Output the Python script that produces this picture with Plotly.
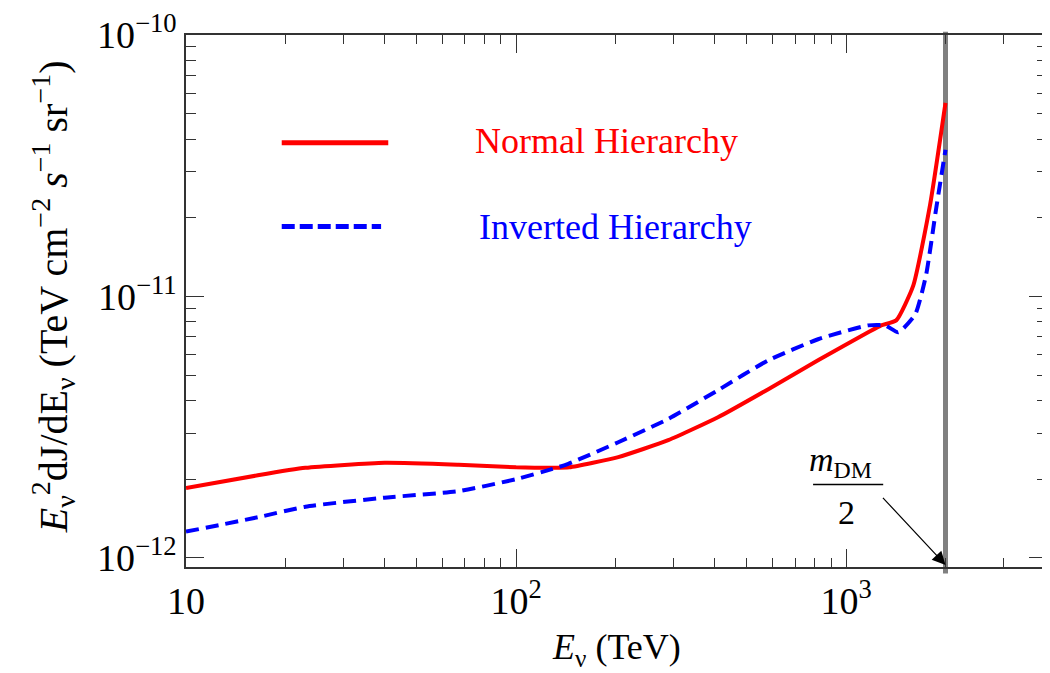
import numpy as np
import plotly.graph_objects as go

# ---- data ----
nh_energy = [10, 16.5, 23, 40, 67, 100, 130, 145, 204, 289, 409, 581, 822, 1166, 1277, 1418, 1597, 1797, 2000]
nh_flux = [1.85e-12, 2.07e-12, 2.21e-12, 2.31e-12, 2.27e-12, 2.22e-12, 2.21e-12, 2.22e-12, 2.43e-12,
           2.82e-12, 3.45e-12, 4.42e-12, 5.70e-12, 7.29e-12, 7.75e-12, 8.10e-12, 1.10e-11, 2.25e-11, 5.50e-11]

ih_energy = [10, 16.5, 23, 40, 67, 100, 129, 144, 204, 289, 409, 581, 822, 1166, 1313, 1439, 1619, 1747, 1876, 2000]
ih_flux = [1.26e-12, 1.43e-12, 1.57e-12, 1.70e-12, 1.80e-12, 2.00e-12, 2.19e-12, 2.29e-12, 2.77e-12,
           3.40e-12, 4.38e-12, 5.70e-12, 6.86e-12, 7.75e-12, 7.75e-12, 7.29e-12, 8.53e-12, 1.21e-11, 2.19e-11, 3.64e-11]

m_dm_half = 2000
x_range = [10, 4060]
y_range = [9.23e-13, 1e-10]

x_tickvals = [10, 100, 1000]
x_ticktext = ["10", "10<sup>2</sup>", "10<sup>3</sup>"]
y_tickvals = [1e-12, 1e-11, 1e-10]
y_ticktext = ["10<sup>−12</sup>", "10<sup>−11</sup>", "10<sup>−10</sup>"]

x_title = "<i>E</i><sub>ν</sub> (TeV)"
y_title = "<i>E</i><sub>ν</sub><sup>2</sup>dJ/dE<sub>ν</sub> (TeV cm<sup>−2</sup> <i>s</i><sup>−1</sup> sr<sup>−1</sup>)"

FONT = "Liberation Serif, Times New Roman, serif"
AX = "#333333"

fig = go.Figure()
fig.add_trace(go.Scatter(x=nh_energy, y=nh_flux, mode="lines", name="Normal Hierarchy",
                         line=dict(color="#ff0000", width=4, shape="spline", smoothing=0.5)))
fig.add_trace(go.Scatter(x=ih_energy, y=ih_flux, mode="lines", name="Inverted Hierarchy",
                         line=dict(color="#0000ff", width=4, dash="13px,7px", shape="spline", smoothing=0.5)))

# vertical line at m_DM/2
fig.add_shape(type="line", xref="x", yref="paper", x0=m_dm_half, x1=m_dm_half, y0=-0.012, y1=1.006,
              line=dict(color="#808080", width=5), layer="below")

# legend samples
fig.add_shape(type="line", xref="x", yref="y", x0=19.5, x1=41.0, y0=3.87e-11, y1=3.87e-11,
              line=dict(color="#ff0000", width=5))
fig.add_shape(type="line", xref="x", yref="y", x0=19.5, x1=39.0, y0=1.85e-11, y1=1.85e-11,
              line=dict(color="#0000ff", width=5, dash="13px,5px"))
fig.add_annotation(x=np.log10(74), y=np.log10(3.92e-11), xref="x", yref="y", text="Normal Hierarchy",
                   showarrow=False, xanchor="left", yanchor="middle",
                   font=dict(family=FONT, size=36, color="#ff0000"))
fig.add_annotation(x=np.log10(76), y=np.log10(1.84e-11), xref="x", yref="y", text="Inverted Hierarchy",
                   showarrow=False, xanchor="left", yanchor="middle",
                   font=dict(family=FONT, size=36, color="#0000ff"))

# m_DM / 2 label
fig.add_annotation(x=np.log10(960), y=np.log10(2.33e-12), xref="x", yref="y",
                   text="<i>m</i><sub>DM</sub>", showarrow=False,
                   font=dict(family=FONT, size=34, color="black"))
fig.add_shape(type="line", xref="x", yref="y", x0=794, x1=1295, y0=1.91e-12, y1=1.91e-12,
              line=dict(color="black", width=1.5))
fig.add_annotation(x=np.log10(1000), y=np.log10(1.49e-12), xref="x", yref="y",
                   text="2", showarrow=False,
                   font=dict(family=FONT, size=34, color="black"))
fig.add_annotation(x=np.log10(m_dm_half), y=np.log10(9.4e-13), xref="x", yref="y",
                   ax=np.log10(1280), ay=np.log10(1.72e-12), axref="x", ayref="y",
                   text="", showarrow=True, arrowhead=2, arrowsize=2.2, arrowwidth=1.2,
                   arrowcolor="black")

# axis titles as annotations for exact placement
fig.add_annotation(x=0.5, y=-0.155, xref="paper", yref="paper", text=x_title, showarrow=False,
                   xanchor="center", yanchor="middle", font=dict(family=FONT, size=36, color="black"))
fig.add_annotation(x=-0.155, y=0.508, xref="paper", yref="paper", text=y_title, showarrow=False,
                   textangle=-90, xanchor="center", yanchor="middle",
                   font=dict(family=FONT, size=40, color="black"))

fig.update_xaxes(type="log", range=[np.log10(x_range[0]), np.log10(x_range[1])], automargin=False,
                 tickvals=x_tickvals, ticktext=x_ticktext, ticks="inside", ticklen=18,
                 tickwidth=1.3, tickcolor=AX, showline=True, linecolor=AX, linewidth=1.5,
                 mirror="allticks", showgrid=False, zeroline=False,
                 minor=dict(ticks="inside", ticklen=9, tickwidth=1.3, tickcolor=AX, dtick="D1", showgrid=False),
                 tickfont=dict(family=FONT, size=38, color="black"))
fig.update_yaxes(type="log", range=[np.log10(y_range[0]), np.log10(y_range[1])], automargin=False,
                 tickvals=y_tickvals, ticktext=y_ticktext, ticks="inside", ticklen=18,
                 tickwidth=1.3, tickcolor=AX, showline=True, linecolor=AX, linewidth=1.5,
                 mirror="allticks", showgrid=False, zeroline=False,
                 minor=dict(ticks="inside", ticklen=10, tickwidth=1.3, tickcolor=AX, dtick="D1", showgrid=False),
                 tickfont=dict(family=FONT, size=38, color="black"))

fig.update_layout(width=1050, height=673, margin=dict(l=178, r=11, t=27, b=114),
                  paper_bgcolor="white", plot_bgcolor="white", showlegend=False)

fig.write_html("out.html")
